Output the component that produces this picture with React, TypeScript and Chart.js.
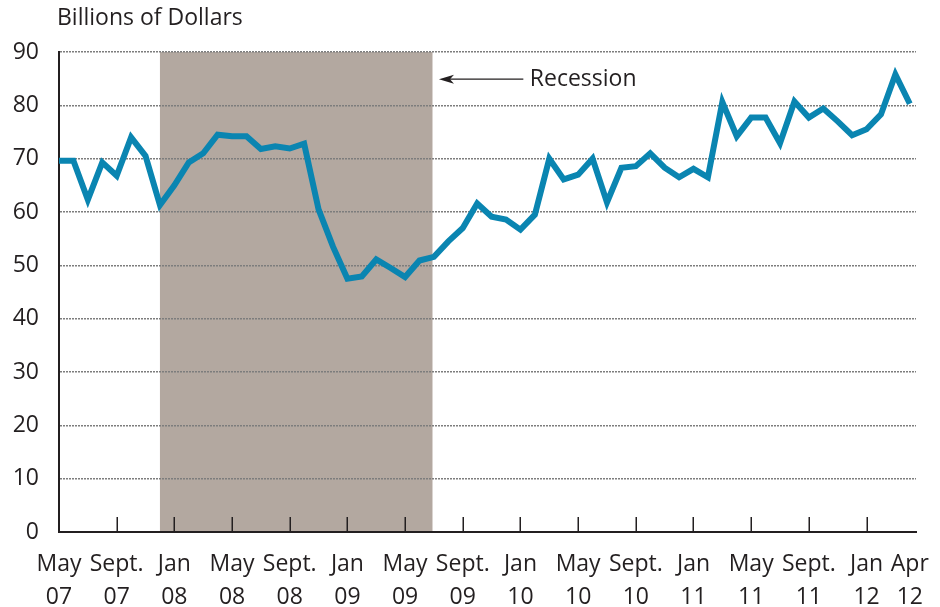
import React, { useEffect, useRef } from "react";
import { Chart, registerables } from "chart.js";

Chart.register(...registerables);

// Monthly values, May 2007 (index 0) to April 2012 (index 59), billions of dollars
const VALUES = [
  69.6, 69.6, 62.3, 69.3, 66.8, 74.0, 70.5, 61.3, 65.0, 69.3, 71.0, 74.5,
  74.2, 74.2, 71.8, 72.3, 71.9, 72.8, 60.5, 53.5, 47.5, 47.9, 51.1, 49.5,
  47.8, 50.9, 51.6, 54.5, 57.0, 61.6, 59.1, 58.6, 56.7, 59.5, 70.0, 66.1,
  67.0, 70.0, 61.8, 68.3, 68.6, 71.0, 68.3, 66.5, 68.1, 66.5, 80.6, 74.2,
  77.7, 77.7, 72.9, 80.7, 77.7, 79.4, 77.0, 74.4, 75.5, 78.3, 85.8, 80.3,
];

// x tick positions (month index) and their two-line labels
const TICK_POSITIONS = [0, 4, 8, 12, 16, 20, 24, 28, 32, 36, 40, 44, 48, 52, 56, 59];
const TICK_LABELS = [
  ["May", "07"], ["Sept.", "07"], ["Jan", "08"], ["May", "08"], ["Sept.", "08"],
  ["Jan", "09"], ["May", "09"], ["Sept.", "09"], ["Jan", "10"], ["May", "10"],
  ["Sept.", "10"], ["Jan", "11"], ["May", "11"], ["Sept.", "11"], ["Jan", "12"],
  ["Apr", "12"],
];
// tick marks drawn inside the plot
const TICK_MARKS = [4, 8, 12, 16, 20, 24, 28, 32, 36, 40, 44, 48, 52, 56];

const Y_TICKS = [0, 10, 20, 30, 40, 50, 60, 70, 80, 90];

// Recession span (month index)
const RECESSION = [7, 25.9];
// annotation: arrow tip, arrow tail, text start (month index), value level
const ANNOT_X = [26.35, 32.2, 32.65];
const ANNOT_Y = 84.9;
const ANNOT_TEXT = "Recession";
const Y_TITLE = "Billions of Dollars";

const FONT = "'Open Sans', 'Noto Sans', sans-serif";
const TEXT = "#231f20";

const decor = {
  id: "decor",
  beforeDraw(chart: any) {
    const { ctx, scales } = chart;
    const x = scales.x, y = scales.y;
    const x0 = x.getPixelForValue(RECESSION[0]);
    const x1 = x.getPixelForValue(RECESSION[1]);
    const yt = y.getPixelForValue(90);
    const yb = y.getPixelForValue(0);
    ctx.save();
    ctx.fillStyle = "#b3a8a0";
    ctx.fillRect(x0, yt, x1 - x0, yb - yt);
    ctx.restore();
  },
  afterDraw(chart: any) {
    const { ctx, scales } = chart;
    const x = scales.x, y = scales.y;
    const yb = y.getPixelForValue(0);
    ctx.save();
    // inward tick marks
    ctx.strokeStyle = TEXT;
    ctx.lineWidth = 1.5;
    TICK_MARKS.forEach((t) => {
      const px = Math.round(x.getPixelForValue(t)) + 0.25;
      ctx.beginPath();
      ctx.moveTo(px, yb);
      ctx.lineTo(px, yb - 15);
      ctx.stroke();
    });
    // y title
    ctx.fillStyle = TEXT;
    ctx.font = `23px ${FONT}`;
    ctx.textAlign = "left";
    ctx.textBaseline = "middle";
    ctx.fillText(Y_TITLE, 57, 18);
    // recession arrow
    const ay = y.getPixelForValue(ANNOT_Y);
    const tip = x.getPixelForValue(ANNOT_X[0]);
    const tail = x.getPixelForValue(ANNOT_X[1]);
    ctx.strokeStyle = TEXT;
    ctx.lineWidth = 1.2;
    ctx.beginPath();
    ctx.moveTo(tip + 4, ay);
    ctx.lineTo(tail, ay);
    ctx.stroke();
    ctx.beginPath();
    ctx.moveTo(tip, ay);
    ctx.lineTo(tip + 15, ay - 4.5);
    ctx.lineTo(tip + 11, ay);
    ctx.lineTo(tip + 15, ay + 4.5);
    ctx.closePath();
    ctx.fillStyle = TEXT;
    ctx.fill();
    ctx.font = `23px ${FONT}`;
    ctx.textBaseline = "middle";
    ctx.fillText(ANNOT_TEXT, x.getPixelForValue(ANNOT_X[2]), ay);
    ctx.restore();
  },
};

export default function App() {
  const ref = useRef<HTMLCanvasElement | null>(null);
  useEffect(() => {
    if (!ref.current) return;
    const chart = new Chart(ref.current, {
      type: "line",
      data: {
        datasets: [
          {
            data: VALUES.map((v, i) => ({ x: i, y: v })),
            borderColor: "#0a85b1",
            borderWidth: 6,
            pointRadius: 0,
            tension: 0,
            borderJoinStyle: "miter",
            fill: false,
          },
        ],
      },
      options: {
        animation: false,
        responsive: false,
        maintainAspectRatio: false,
        events: [],
        layout: { padding: { left: 0, right: 24, top: 52, bottom: 0 } },
        plugins: { legend: { display: false }, tooltip: { enabled: false }, title: { display: false } },
        scales: {
          x: {
            type: "linear",
            min: 0,
            max: 59.43,
            afterBuildTicks: (scale: any) => {
              scale.ticks = TICK_POSITIONS.map((v) => ({ value: v }));
            },
            afterFit: (scale: any) => {
              scale.height = 75;
              scale.paddingLeft = 0;
              scale.paddingRight = 0;
            },
            ticks: {
              autoSkip: false,
              maxRotation: 0,
              minRotation: 0,
              padding: 16.5,
              color: TEXT,
              font: { family: FONT, size: 23, lineHeight: 1.43 },
              callback: (value: any) => {
                const idx = TICK_POSITIONS.indexOf(Number(value));
                return idx >= 0 ? TICK_LABELS[idx] : "";
              },
            },
            grid: { display: true, drawOnChartArea: false, drawTicks: false },
            border: { display: true, color: TEXT, width: 2 },
          },
          y: {
            type: "linear",
            min: 0,
            max: 90,
            afterBuildTicks: (scale: any) => {
              scale.ticks = Y_TICKS.map((v) => ({ value: v }));
            },
            afterFit: (scale: any) => {
              scale.width = 59;
            },
            ticks: {
              padding: 20,
              color: TEXT,
              font: { family: FONT, size: 23 },
            },
            grid: {
              drawTicks: false,
              color: (c: any) => (c.tick && c.tick.value === 0 ? "rgba(0,0,0,0)" : "#7d7d7d"),
              lineWidth: 1.5,
            },
            border: { display: true, color: TEXT, width: 2, dash: [2, 1] },
          },
        },
      },
      plugins: [decor],
    } as any);
    return () => chart.destroy();
  }, []);
  return (
    <div style={{ position: "absolute", left: 0, top: 0, width: 940, height: 607, background: "#fff" }}>
      <canvas ref={ref} width={940} height={607} style={{ width: 940, height: 607, display: "block" }} />
    </div>
  );
}
